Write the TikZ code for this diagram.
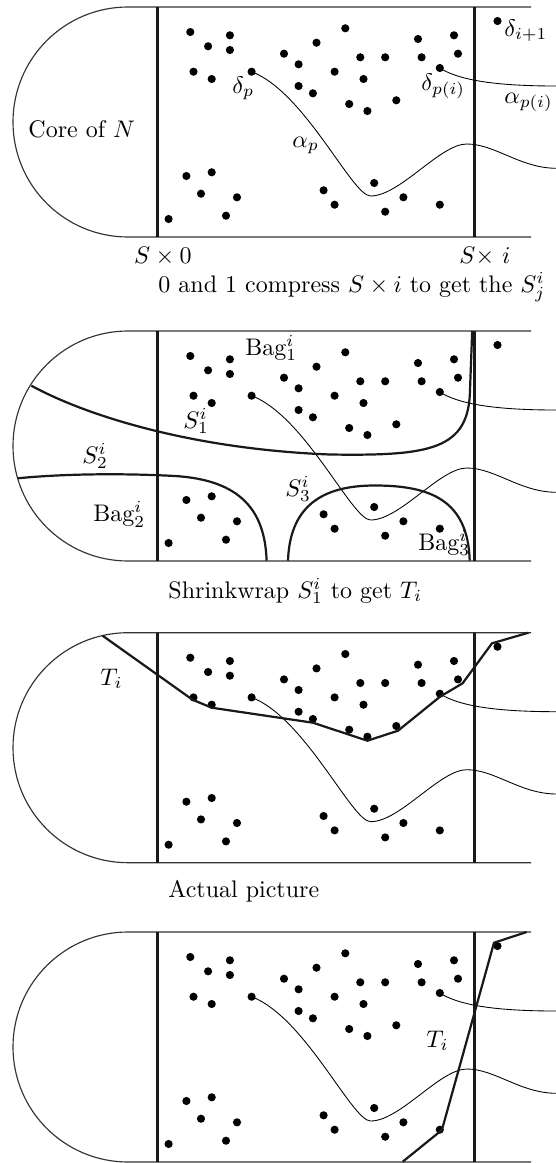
\documentclass[tikz,border=0pt]{standalone}
\tikzset{
  dot/.style={circle,fill=black,draw=none,inner sep=0pt,minimum size=3.4pt},
  frameline/.style={line width=0.48pt,black!80},
  wall/.style={line width=0.85pt,black!90},
  fine/.style={line width=0.36pt},
  bound/.style={line width=0.92pt,line join=round,black!90},
  lbl/.style={inner sep=0pt,anchor=base west},
}
\newcommand\drawframe{%
  \draw[frameline] (531,7) -- (128,7) arc[start angle=270,end angle=90,radius=115] -- (531,237);
  \draw[wall] (157.5,7) -- (157.5,237);
  \draw[wall] (474.5,7) -- (474.5,237);
}
\newcommand\drawdots[1]{%
  \foreach \px/\py [count=\n] in {190.3/32, 208.1/46.3, 229.9/35.3, 229.9/50, 193.5/71.7, 211.7/79, 251.6/71.7, 284/53.7, 298.6/64.3, 316.5/42.7, 345.3/28.3, 334.6/71.7, 298.6/86, 312.9/93.3, 360.3/57.3, 385.2/57.3, 363.5/79, 349.2/104, 367.4/111, 396.3/100.3, 418/39, 421.6/57.3, 454/35.3, 458/53.7, 439.8/68, 497.5/21, 186.4/176, 211.7/172.3, 201/193.7, 237/197.3, 226/215.7, 168.6/219, 323.6/190.3, 334.6/204.7, 374.2/183, 403.4/197.3, 385.2/211.7, 439.8/204.7}
    {\node[dot] (#1d\n) at (\px,\py) {};}%
}
\newcommand\drawcurves[1]{%
  \coordinate (#1e1) at (556,168.3);
  \coordinate (#1e2) at (556,86);
  \draw[fine] (#1d7.center) .. controls (305,92) and (352,196) .. (370.6,196)
     .. controls (400,196) and (440,144) .. (466.8,144)
     .. controls (495,144) and (520,168) .. (#1e1);
  \draw[fine] (#1d25.center) .. controls (457,79) and (490,86) .. (#1e2);
}
\begin{document}
\begin{tikzpicture}[x=0.41667pt,y=-0.41667pt]
\fill[white] (0,0) rectangle (556,1163);
\useasboundingbox (0,0) rectangle (556,1163);
% ---------- panel 1
\begin{scope}
  \drawframe
  \drawdots{A}
  \drawcurves{A}
\end{scope}
\node[lbl] (core) at (28,137) {Core of $N$};
\node[lbl] (dp) at (232,93) {$\delta_p$};
\node[lbl] (ap) at (292,147) {$\alpha_p$};
\node[lbl] (dpi) at (421,90) {$\delta_{p(i)}$};
\node[lbl] (api) at (504,103) {$\alpha_{p(i)}$};
\node[lbl] (di1) at (504,36) {$\delta_{i+1}$};
\node[lbl] (s0) at (133.6,263) {$S\times 0$};
\node[lbl] (si) at (459,263) {$S{\times}\ i$};
\node[lbl] (cap1) at (158,292) {0 and 1 compress $S\times i$ to get the $S^i_j$};
% ---------- panel 2
\begin{scope}[shift={(0,324)}]
  \drawframe
  \drawdots{B}
  \drawcurves{B}
  \draw[bound] (31.4,61.7) .. controls (85,91) and (190,125) .. (330,130.5)
     .. controls (430,132) and (469,126) .. (470,66) -- (472.2,7);
  \draw[bound] (17.8,154.3) .. controls (60,150) and (120,149) .. (175,152)
     .. controls (240,156) and (265,186) .. (266.6,236.7);
  \draw[bound] (288,236.7) .. controls (290,176) and (330,161.5) .. (375,161.5)
     .. controls (430,161.5) and (468,176) .. (469.7,236.7);
\end{scope}
\node[lbl] (bag1) at (245,355) {Bag$^i_1$};
\node[lbl] (s1) at (183,428) {$S^i_1$};
\node[lbl] (s2) at (82,463) {$S^i_2$};
\node[lbl] (s3) at (285,496) {$S^i_3$};
\node[lbl] (bag2) at (93,521.5) {Bag$^i_2$};
\node[lbl] (bag3) at (418,550) {Bag$^i_3$};
\node[lbl] (cap2) at (168,598) {Shrinkwrap $S^i_1$ to get $T_i$};
% ---------- panel 3
\begin{scope}[shift={(0,625.7)}]
  \drawframe
  \drawdots{C}
  \drawcurves{C}
  \draw[bound] (102.6,10) -- (192.5,74) -- (211.7,82) -- (312.9,97) -- (367.4,115)
     -- (398,105) -- (440,71) -- (462.6,57.6) -- (492,17.6) -- (528.5,7);
\end{scope}
\node[lbl] (t3) at (100,685) {$T_i$};
\node[lbl] (cap3) at (168,897) {Actual picture};
% ---------- panel 4
\begin{scope}[shift={(0,925)}]
  \drawframe
  \drawdots{D}
  \drawcurves{D}
  \draw[bound] (526.7,7) -- (494,17.7) -- (441.9,205) -- (402.7,236.7);
\end{scope}
\node[lbl] (t4) at (426,1047) {$T_i$};
\end{tikzpicture}
\end{document}
